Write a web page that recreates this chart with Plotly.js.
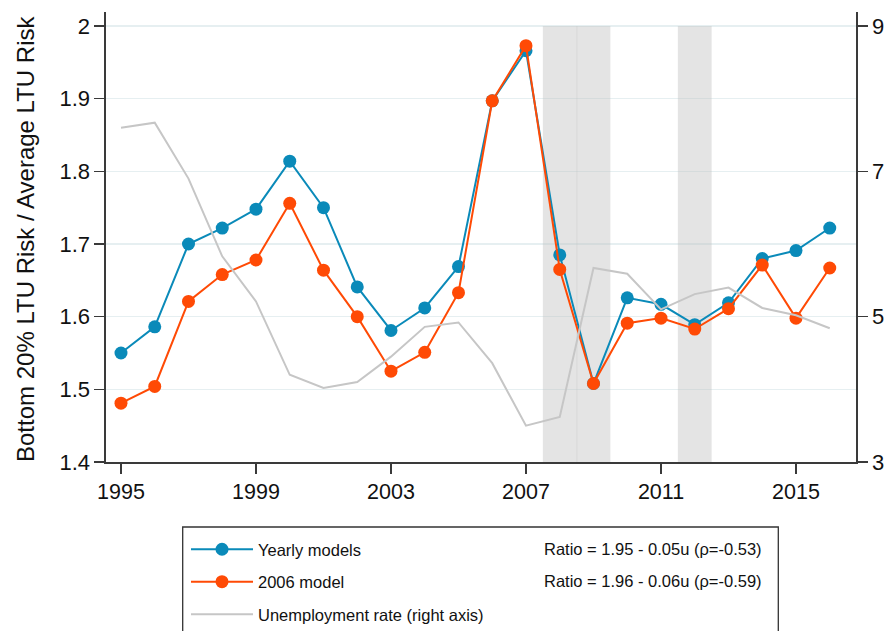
<!DOCTYPE html>
<html>
<head>
<meta charset="utf-8">
<script src="https://cdn.plot.ly/plotly-3.0.1.min.js"></script>
<style>html,body{margin:0;padding:0;background:#fff;}#chart{width:884px;height:631px;}</style>
</head>
<body>
<div id="chart"></div>
<script>
const years = [1995,1996,1997,1998,1999,2000,2001,2002,2003,2004,2005,2006,2007,2008,2009,2010,2011,2012,2013,2014,2015,2016];
const yearlyModels = [1.550,1.586,1.700,1.722,1.748,1.814,1.750,1.641,1.581,1.612,1.669,1.897,1.966,1.685,1.508,1.626,1.617,1.589,1.619,1.680,1.691,1.722];
const model2006 = [1.481,1.504,1.621,1.658,1.678,1.756,1.664,1.600,1.525,1.551,1.633,1.897,1.973,1.665,1.508,1.591,1.598,1.583,1.611,1.671,1.598,1.667];
const unemployment = [7.60,7.67,6.90,5.83,5.21,4.20,4.02,4.10,4.45,4.86,4.92,4.36,3.50,3.62,5.67,5.59,5.10,5.31,5.40,5.12,5.02,4.84];
const recessions = [[2007.5,2008.52],[2008.5,2009.5],[2011.5,2012.5]];
const legendNames = ['Yearly models','2006 model','Unemployment rate (right axis)'];
const fitTexts = ['Ratio = 1.95 - 0.05u (\u03c1=-0.53)','Ratio = 1.96 - 0.06u (\u03c1=-0.59)'];
const yTitle = 'Bottom 20% LTU Risk / Average LTU Risk';

const BLUE = '#0a8ab9', ORANGE = '#ff4a05', GRAY = '#c6c6c6';
const FONT = 'Liberation Sans, Arial, sans-serif';
const W = 884, H = 631;
const PL = 106, PR = 856, PT = 12, PB = 462;
const px = v => (v - PL) / (PR - PL);
const py = v => (PB - v) / (PB - PT);

const traces = [
  {x: years, y: unemployment, yaxis: 'y2', type: 'scatter', mode: 'lines', name: legendNames[2],
   line: {color: GRAY, width: 2}, legendrank: 3, legendgroup: 'c'},
  {x: years, y: yearlyModels, type: 'scatter', mode: 'lines+markers', name: legendNames[0],
   line: {color: BLUE, width: 2}, marker: {color: BLUE, size: 13}, legendrank: 1, legendgroup: 'a'},
  {x: years, y: model2006, type: 'scatter', mode: 'lines+markers', name: legendNames[1],
   line: {color: ORANGE, width: 2}, marker: {color: ORANGE, size: 13}, legendrank: 2, legendgroup: 'b'}
];

const shapes = recessions.map(r => ({
  type: 'rect', xref: 'x', yref: 'y', x0: r[0], x1: r[1], y0: 1.4, y1: 2.0,
  fillcolor: 'rgba(190,190,190,0.42)', line: {width: 0}, layer: 'between'
}));
// legend frame
shapes.push({type: 'rect', xref: 'paper', yref: 'paper', x0: px(182.7), x1: px(778.3),
  y0: py(645), y1: py(527), line: {color: '#333', width: 1.3}, fillcolor: 'rgba(0,0,0,0)'});

const annotations = fitTexts.map((t, i) => ({
  text: t, xref: 'paper', yref: 'paper', x: px(541.5), y: py([549,581][i]),
  xanchor: 'left', yanchor: 'middle', showarrow: false, font: {family: FONT, size: 16.5, color: '#111'}
}));
annotations.push({text: yTitle, xref: 'paper', yref: 'paper', x: px(25), y: py(239), textangle: -90,
  xanchor: 'center', yanchor: 'middle', showarrow: false, font: {family: FONT, size: 24, color: '#111'}});

const axisCommon = {showline: true, linecolor: '#3a3a3a', linewidth: 1.6, ticks: 'outside', ticklen: 10,
  tickwidth: 1.6, tickcolor: '#3a3a3a', tickfont: {family: FONT, size: 21.5, color: '#111'}, zeroline: false};

const layout = {
  width: W, height: H,
  margin: {l: PL, r: W - PR, t: PT, b: H - PB, autoexpand: false},
  paper_bgcolor: '#fff', plot_bgcolor: '#fff',
  font: {family: FONT, color: '#111'},
  xaxis: Object.assign({}, axisCommon, {range: [1994.556, 2016.778], tickvals: [1995,1999,2003,2007,2011,2015],
    showgrid: false}),
  yaxis: Object.assign({}, axisCommon, {range: [1.4, 2.0193], tickvals: [1.4,1.5,1.6,1.7,1.8,1.9,2],
    ticktext: ['1.4','1.5','1.6','1.7','1.8','1.9','2'], tickfont: {family: FONT, size: 22, color: '#111'},
    showgrid: true, gridcolor: '#e6eff1', gridwidth: 1.5}),
  yaxis2: Object.assign({}, axisCommon, {overlaying: 'y', side: 'right', range: [3, 9.1927], tickvals: [3,5,7,9],
    tickfont: {family: FONT, size: 22, color: '#111'}, showgrid: false}),
  showlegend: true,
  legend: {x: px(186), y: py(532), xanchor: 'left', yanchor: 'top', orientation: 'v',
    traceorder: 'grouped', tracegroupgap: 8, bgcolor: 'rgba(0,0,0,0)', borderwidth: 0,
    font: {family: FONT, size: 16.5, color: '#111'}, itemwidth: 62},
  shapes: shapes,
  annotations: annotations
};

Plotly.newPlot('chart', traces, layout, {displayModeBar: false, staticPlot: true});
</script>
</body>
</html>
